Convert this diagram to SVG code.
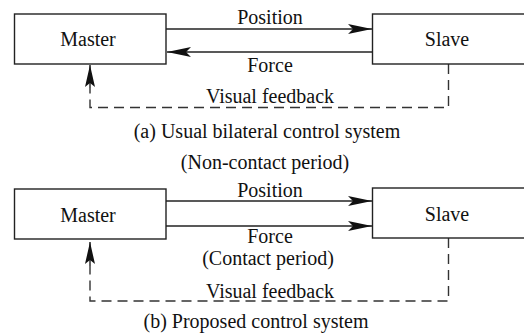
<svg xmlns="http://www.w3.org/2000/svg" width="524" height="335" viewBox="0 0 524 335">
<style>
text{font-family:'Liberation Serif','Times New Roman',serif;font-size:20px;fill:#111;text-anchor:middle}
.box{fill:#fff;stroke:#222;stroke-width:1.4}
.ln{fill:none;stroke:#222;stroke-width:1.4}
.dash{fill:none;stroke:#333;stroke-width:1.4;stroke-dasharray:10,6}
</style>
<defs>
<marker id="ah" viewBox="0 0 24 10" refX="24" refY="5" markerWidth="24" markerHeight="10" markerUnits="userSpaceOnUse" orient="auto">
<path d="M0,0 L24,5 L0,10 L5,5 Z" fill="#111"/>
</marker>
<marker id="dh" viewBox="0 0 22 10" refX="22" refY="5" markerWidth="22" markerHeight="10" markerUnits="userSpaceOnUse" orient="auto">
<path d="M0,0 L22,5 L0,10 L4,5 Z" fill="#111"/>
</marker>
</defs>
<g id="connectors">
<line class="ln" x1="166" y1="29" x2="372" y2="29" marker-end="url(#ah)"/>
<line class="ln" x1="372" y1="52" x2="167" y2="52" marker-end="url(#ah)"/>
<polyline class="dash" points="448.5,64 448.5,107.5 90,107.5 90,88"/>
<line class="ln" x1="90" y1="88" x2="90" y2="65" marker-end="url(#dh)"/>
<line class="ln" x1="166" y1="201" x2="372" y2="201" marker-end="url(#ah)"/>
<line class="ln" x1="166" y1="226" x2="372" y2="226" marker-end="url(#ah)"/>
<polyline class="dash" points="448.5,238 448.5,301 90,301 90,266"/>
<line class="ln" x1="90" y1="266" x2="90" y2="242" marker-end="url(#dh)"/>
</g>
<g id="master-a"><rect class="box" x="14.5" y="14" width="151.5" height="50"/><text x="88" y="46">Master</text></g>
<g id="slave-a"><rect class="box" x="372.5" y="14" width="155" height="50"/><text x="447" y="46">Slave</text></g>
<g id="master-b"><rect class="box" x="14.5" y="189" width="151.5" height="50"/><text x="88" y="222">Master</text></g>
<g id="slave-b"><rect class="box" x="372.5" y="188" width="155" height="50"/><text x="447" y="221">Slave</text></g>
<g id="labels">
<text x="270" y="24">Position</text>
<text x="270" y="72">Force</text>
<text x="270" y="103">Visual feedback</text>
<text x="267" y="138">(a) Usual bilateral control system</text>
<text x="265" y="169">(Non-contact period)</text>
<text x="270" y="197">Position</text>
<text x="270" y="243">Force</text>
<text x="268" y="265">(Contact period)</text>
<text x="270" y="298">Visual feedback</text>
<text x="256" y="328">(b) Proposed control system</text>
</g>
</svg>
